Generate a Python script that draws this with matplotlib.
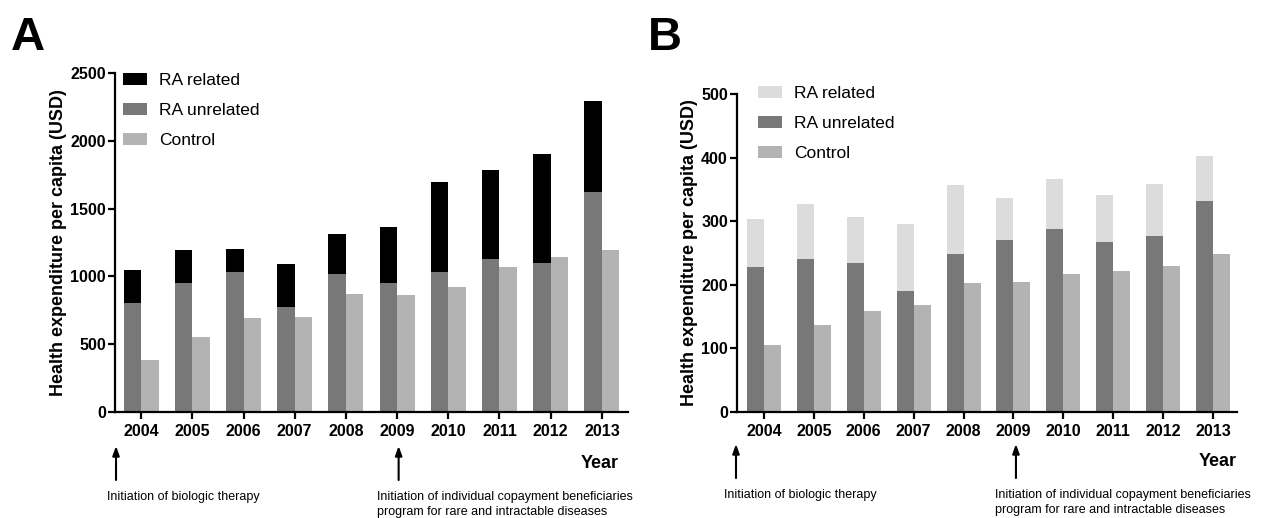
import matplotlib
matplotlib.use('Agg')
import matplotlib.pyplot as plt
from matplotlib.patches import Patch
from matplotlib.transforms import blended_transform_factory as btf
import numpy as np

plt.rcParams['font.family'] = ['Liberation Sans', 'DejaVu Sans']

years = ['2004', '2005', '2006', '2007', '2008', '2009', '2010', '2011', '2012', '2013']

# Panel A (USD)
a_unrelated = [805, 950, 1030, 775, 1020, 955, 1035, 1125, 1100, 1625]
a_related = [245, 245, 175, 320, 295, 410, 660, 660, 805, 665]
a_control = [385, 555, 690, 700, 870, 860, 925, 1068, 1140, 1195]

# Panel B (USD)
b_unrelated = [228, 240, 235, 190, 249, 270, 288, 268, 277, 332]
b_related = [75, 87, 72, 105, 108, 66, 78, 73, 82, 70]
b_control = [105, 137, 159, 169, 203, 205, 217, 222, 230, 249]

series_labels = ['RA related', 'RA unrelated', 'Control']
ylabel = 'Health expenditure per capita (USD)'
note1 = 'Initiation of biologic therapy'
note2 = 'Initiation of individual copayment beneficiaries\nprogram for rare and intractable diseases'

C_UNREL = '#787878'
C_CTRL = '#b3b3b3'

W, H = 1273, 518
fig = plt.figure(figsize=(W / 100, H / 100), dpi=100)


def fx(px):
    return px / W


def fy(py):
    return (H - py) / H


def panel(rect, related, unrelated, control, rel_color, ymax, ystep, xlim,
          leg_anchor, year_x, year_y, arrow_xs, note_xs, arrow_y, note_y):
    ax = fig.add_axes(rect)
    x = np.arange(len(years))
    w = 0.34
    ax.bar(x - w / 2, unrelated, w, color=C_UNREL, linewidth=0)
    ax.bar(x - w / 2, related, w, bottom=unrelated, color=rel_color, linewidth=0)
    ax.bar(x + w / 2, control, w, color=C_CTRL, linewidth=0)
    ax.set_xlim(*xlim)
    ax.set_ylim(0, ymax)
    ax.set_yticks(np.arange(0, ymax + 1, ystep))
    ax.set_xticks(x)
    ax.set_xticklabels(years, fontweight='bold')
    for t in ax.get_yticklabels():
        t.set_fontweight('bold')
    ax.spines['top'].set_visible(False)
    ax.spines['right'].set_visible(False)
    for s in ('left', 'bottom'):
        ax.spines[s].set_linewidth(1.6)
    ax.tick_params(axis='both', direction='out', length=5, width=1.6,
                   labelsize=11.5, colors='black')
    ax.tick_params(axis='y', pad=1.5)
    ax.tick_params(axis='x', pad=4)
    ax.set_ylabel(ylabel, fontsize=13, fontweight='bold', labelpad=2.5)

    handles = [Patch(facecolor=rel_color), Patch(facecolor=C_UNREL), Patch(facecolor=C_CTRL)]
    ax.legend(handles, series_labels, loc='upper left', bbox_to_anchor=leg_anchor,
              bbox_transform=fig.transFigure, frameon=False, fontsize=12.5,
              handlelength=1.4, handleheight=0.62, handletextpad=0.7,
              labelspacing=0.87, borderpad=0, borderaxespad=0)

    tr = btf(ax.transData, fig.transFigure)
    ax.text(year_x, fy(year_y), 'Year', transform=btf(ax.transAxes, fig.transFigure),
            ha='right', va='center', fontsize=13, fontweight='bold')
    for ax_x in arrow_xs:
        ax.annotate('', xy=(ax_x, fy(arrow_y[0])), xytext=(ax_x, fy(arrow_y[1])),
                    xycoords=tr, textcoords=tr, annotation_clip=False,
                    arrowprops=dict(arrowstyle='-|>,head_length=0.55,head_width=0.2',
                                    color='black', lw=1.5, shrinkA=0, shrinkB=0))
    ax.text(note_xs[0], fy(note_y), note1, transform=tr, ha='left', va='top',
            fontsize=9, linespacing=1.3)
    ax.text(note_xs[1], fy(note_y), note2, transform=tr, ha='left', va='top',
            fontsize=9, linespacing=1.3)
    return ax


axA = panel([fx(115), fy(412), fx(628) - fx(115), fy(73) - fy(412)],
            a_related, a_unrelated, a_control, '#000000', 2500, 500, (-0.51, 9.51),
            (fx(123), fy(73)), 0.982, 463, (-0.49, 5.03), (-0.66, 4.61), (446, 480), 491)
axB = panel([fx(737), fy(412), fx(1237) - fx(737), fy(94) - fy(412)],
            b_related, b_unrelated, b_control, '#dcdcdc', 500, 100, (-0.54, 9.48),
            (fx(758), fy(86)), 1.0, 461, (-0.56, 5.05), (-0.8, 4.64), (444, 478), 489)

fig.text(fx(11), fy(50), 'A', fontsize=34, fontweight='bold', ha='left', va='baseline')
fig.text(fx(648), fy(50), 'B', fontsize=34, fontweight='bold', ha='left', va='baseline')

fig.savefig('out.png', dpi=100)
